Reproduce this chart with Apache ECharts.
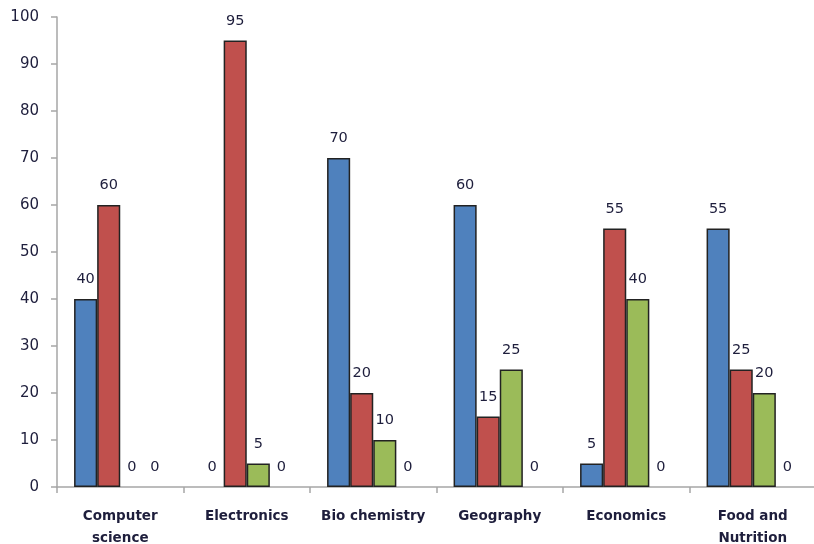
<!DOCTYPE html>
<html>
<head>
<meta charset="utf-8">
<script src="https://cdn.jsdelivr.net/npm/echarts@6/dist/echarts.min.js"></script>
<style>
    html, body { margin: 0; padding: 0; background: #fff; }
    #chart { width: 814px; height: 544px; }
</style>
</head>
<body>
<div id="chart"></div>
<script>
// categories and values
const categories = ['Computer\nscience', 'Electronics', 'Bio chemistry', 'Geography', 'Economics', 'Food and\nNutrition'];
const blueVals = [40, 0, 70, 60, 5, 55];
const redVals = [60, 95, 20, 15, 55, 25];
const greenVals = [0, 5, 10, 25, 40, 20];
const fourthVals = [0, 0, 0, 0, 0, 0];

const textColor = '#1e1e3c';
const axisGray = '#a6a6a6';

const mkSeries = (name, data, color) => ({
    name: name,
    type: 'bar',
    // zero bars get no outline so nothing shows at the baseline
    data: data.map(v => v === 0 ? { value: v, itemStyle: { borderWidth: 0 } } : v),
    barCategoryGap: '27%',
    barGap: '0%',
    itemStyle: {
        color: color,
        borderColor: '#222',
        borderWidth: 1.5
    },
    label: {
        show: true,
        position: 'top',
        distance: 12,
        color: textColor,
        fontFamily: 'DejaVu Sans',
        fontSize: 14.5
    }
});

let mychart = echarts.init(document.getElementById('chart'));
let option = {
    animation: false,
    grid: {
        left: 57,
        right: -2,
        top: 17,
        bottom: 57,
        outerBoundsMode: 'none'
    },
    xAxis: {
        type: 'category',
        data: categories,
        axisLine: { lineStyle: { color: axisGray, width: 1.5 } },
        axisTick: { show: true, length: 6, lineStyle: { color: axisGray, width: 1.5 } },
        axisLabel: {
            color: textColor,
            fontFamily: 'DejaVu Sans',
            fontWeight: 'bold',
            fontSize: 13.5,
            lineHeight: 22,
            margin: 18,
            interval: 0
        }
    },
    yAxis: {
        type: 'value',
        min: 0,
        max: 100,
        interval: 10,
        splitLine: { show: false },
        axisLine: { show: true, lineStyle: { color: axisGray, width: 1.5 } },
        axisTick: { show: true, length: 6, lineStyle: { color: axisGray, width: 1.5 } },
        axisLabel: {
            color: textColor,
            fontFamily: 'DejaVu Sans',
            fontSize: 15,
            margin: 18
        }
    },
    series: [
        mkSeries('S1', blueVals, '#4F81BD'),
        mkSeries('S2', redVals, '#C0504D'),
        mkSeries('S3', greenVals, '#9BBB59'),
        mkSeries('S4', fourthVals, '#8064A2')
    ]
};
mychart.setOption(option);
</script>
</body>
</html>
